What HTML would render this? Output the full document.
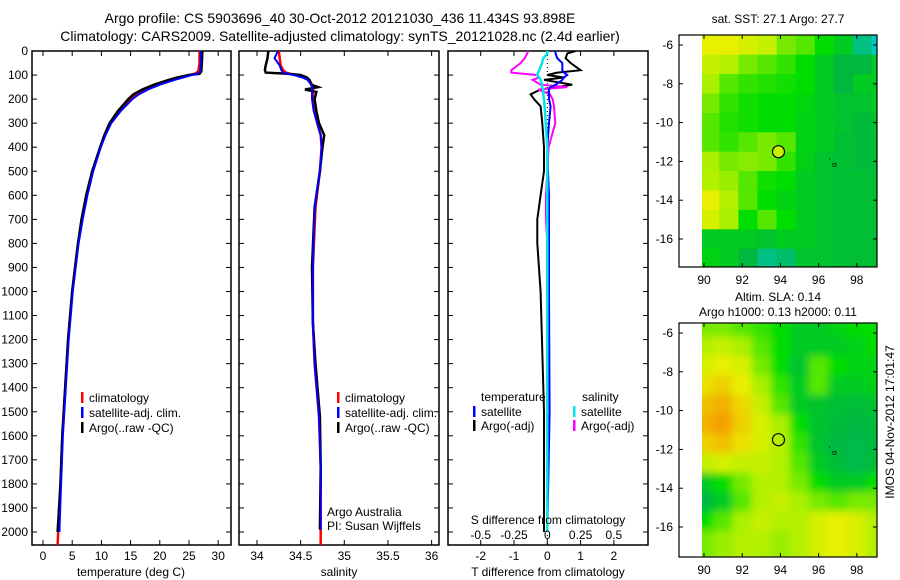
<!DOCTYPE html>
<html><head><meta charset="utf-8"><style>
html,body{margin:0;padding:0;background:#fff;}
svg{display:block;font-family:"Liberation Sans",sans-serif;}
</style></head><body>
<svg id="fig" width="900" height="580" viewBox="0 0 900 580" xmlns="http://www.w3.org/2000/svg">
<defs>
<clipPath id="c1"><rect x="32" y="51" width="199" height="494"/></clipPath>
<clipPath id="c2"><rect x="239" y="51" width="200" height="494"/></clipPath>
<clipPath id="c3"><rect x="448" y="51" width="200" height="494"/></clipPath>
<clipPath id="m1"><rect x="702" y="35" width="175" height="232"/></clipPath>
<clipPath id="m2"><rect x="702" y="323" width="175" height="234"/></clipPath>
<filter id="bl"><feGaussianBlur stdDeviation="4"/></filter>
</defs>
<text x="340" y="23" text-anchor="middle" font-size="14">Argo profile: CS 5903696_40 30-Oct-2012 20121030_436 11.434S 93.898E</text>
<text x="340" y="41" text-anchor="middle" font-size="14">Climatology: CARS2009. Satellite-adjusted climatology: synTS_20121028.nc (2.4d earlier)</text>
<g id="g"></g>
</svg>
<script>
// ---------- data ----------
const depthT = [0,50,85,95,100,110,120,140,160,180,200,250,300,350,400,500,600,700,800,900,1000,1200,1400,1600,1800,2000,2054];
const tempClim = [26.8,26.8,26.6,26,25,23.5,22,19.5,17.5,16,15,13,11.5,10.6,9.8,8.5,7.5,6.7,6,5.5,5,4.3,3.8,3.3,3.0,2.6,2.5];
const tempSat = [27.0,27.0,26.9,26.5,25.5,24,22.5,20,18,16.4,15.3,13.3,11.7,10.7,9.9,8.6,7.6,6.8,6.1,5.6,5.1,4.4,3.9,3.4,3.1,2.8,2.8];
const tempArgo = [27.3,27.2,27.1,26.8,25,23,21.5,19,17,15.5,14.6,12.8,11.4,10.5,9.8,8.4,7.4,6.6,6,5.5,5,4.3,3.8,3.3,3.0,2.5,2.5];
const depthS = [0,30,60,80,90,95,100,110,120,140,150,160,170,200,250,300,350,400,500,650,900,1130,1300,1520,1730,1990,2054];
const salClim = [34.25,34.26,34.27,34.3,34.33,34.38,34.45,34.55,34.6,34.63,34.64,34.64,34.64,34.64,34.66,34.69,34.73,34.74,34.72,34.67,34.64,34.64,34.66,34.71,34.73,34.73,34.73];
const salSat = [34.24,34.2,34.26,34.28,34.3,34.35,34.42,34.52,34.58,34.62,34.63,34.63,34.63,34.63,34.65,34.69,34.73,34.74,34.72,34.66,34.64,34.64,34.66,34.71,34.73,34.73,34.73];
const salArgo = [34.13,34.12,34.1,34.09,34.1,34.35,34.5,34.57,34.6,34.62,34.7,34.55,34.68,34.66,34.68,34.71,34.77,34.75,34.72,34.66,34.63,34.64,34.67,34.72,34.73,34.72,34.72];
const depthD = [0,10,30,50,80,90,100,110,120,140,150,160,180,200,230,300,400,500,600,700,800,1000,1500,2000];
const tDiffSat = [0.23,0.25,0.3,0.45,0.45,0.5,0.6,0.5,0.45,0.25,0.1,0.05,0.05,0.05,0.1,0.05,0,0.02,0.05,0.05,0.05,0.05,0.07,0.0];
const tDiffArgo = [0.85,0.6,0.55,0.7,1.0,0.3,0.0,0.5,-0.1,0.75,0.3,-0.2,-0.5,-0.4,-0.2,-0.15,-0.1,-0.1,-0.2,-0.3,-0.3,-0.2,-0.1,-0.1];
const sDiffSat = [0,0,-0.03,-0.04,-0.06,-0.07,-0.075,-0.06,-0.05,-0.04,-0.04,-0.03,-0.03,-0.025,-0.02,-0.012,0,0,0,0,0,0,0,0];
const sDiffArgo = [-0.145,-0.15,-0.17,-0.2,-0.27,-0.27,-0.08,-0.06,-0.11,-0.05,0.15,-0.07,0.02,0.04,0.05,0.06,0.01,0.0,-0.01,-0.01,0,0,0,0];
const depthTicks = [0,100,200,300,400,500,600,700,800,900,1000,1100,1200,1300,1400,1500,1600,1700,1800,1900,2000];
const tempTicks = [0,5,10,15,20,25,30];
const salTicks = [34,34.5,35,35.5,36];
const tdTicks = [-2,-1,0,1,2];
const sdTicks = [-0.5,-0.25,0,0.25,0.5];
const sdTickLabels = ["-0.5","-0.25","0","0.25","0.5"];
const mapLons = [90,92,94,96,98];
const mapLats = [-6,-8,-10,-12,-14,-16];
const sstGrid = [
[0.72,0.72,0.7,0.68,0.62,0.6,0.55,0.5,0.4,0.35],
[0.68,0.66,0.62,0.6,0.58,0.55,0.5,0.45,0.45,0.5],
[0.65,0.6,0.58,0.57,0.56,0.55,0.5,0.45,0.5,0.5],
[0.62,0.58,0.56,0.55,0.55,0.53,0.5,0.48,0.48,0.5],
[0.6,0.57,0.56,0.55,0.55,0.52,0.5,0.48,0.46,0.48],
[0.6,0.58,0.6,0.62,0.6,0.52,0.5,0.47,0.46,0.47],
[0.65,0.62,0.63,0.62,0.58,0.52,0.48,0.47,0.46,0.47],
[0.66,0.64,0.6,0.56,0.55,0.5,0.48,0.47,0.47,0.47],
[0.72,0.66,0.6,0.55,0.52,0.5,0.48,0.47,0.47,0.47],
[0.7,0.65,0.55,0.6,0.55,0.5,0.48,0.47,0.47,0.47],
[0.5,0.5,0.5,0.48,0.5,0.5,0.48,0.47,0.47,0.47],
[0.52,0.5,0.45,0.4,0.42,0.48,0.48,0.47,0.47,0.47]];
const slaGrid = [
[0.62,0.62,0.6,0.58,0.55,0.5,0.5,0.52,0.55,0.55],
[0.66,0.68,0.65,0.6,0.55,0.5,0.5,0.5,0.52,0.55],
[0.7,0.72,0.7,0.62,0.55,0.48,0.6,0.55,0.52,0.52],
[0.74,0.76,0.72,0.65,0.58,0.5,0.6,0.5,0.5,0.52],
[0.78,0.8,0.75,0.68,0.6,0.5,0.48,0.47,0.46,0.48],
[0.8,0.82,0.76,0.7,0.65,0.55,0.48,0.46,0.45,0.46],
[0.76,0.78,0.74,0.7,0.66,0.58,0.48,0.45,0.44,0.45],
[0.68,0.7,0.68,0.68,0.66,0.6,0.5,0.46,0.44,0.46],
[0.5,0.55,0.62,0.66,0.66,0.62,0.55,0.5,0.5,0.55],
[0.45,0.5,0.6,0.66,0.68,0.65,0.62,0.6,0.62,0.62],
[0.55,0.6,0.65,0.68,0.66,0.66,0.7,0.72,0.7,0.66],
[0.62,0.64,0.66,0.66,0.64,0.66,0.7,0.72,0.7,0.66]];
const argoPos = [93.9,-11.5];

// ---------- helpers ----------
const NS="http://www.w3.org/2000/svg";
const G=document.getElementById('g');
function el(tag,attrs,parent){const e=document.createElementNS(NS,tag);for(const k in attrs)e.setAttribute(k,attrs[k]);(parent||G).appendChild(e);return e;}
function txt(x,y,s,anchor,size,parent){const t=el('text',{x:x,y:y,'text-anchor':anchor||'middle','font-size':size||12},parent);t.textContent=s;return t;}
const yD = d => 51 + d*0.2405;
const xT = v => 43 + v*5.84;
const xS = v => 257 + (v-34)*87.3;
const xTD = v => 547.3 + v*33.3;
const xSD = v => 547.3 + v*4*33.3;

function panel(x0,x1,name,xticks,xf){
  const f=el('rect',{x:x0,y:51,width:x1-x0,height:494,fill:'none',stroke:'#000','stroke-width':1.5});
  
  
  depthTicks.forEach(d=>{
    el('line',{x1:x0,x2:x0+5,y1:yD(d),y2:yD(d),stroke:'#000'});
    el('line',{x1:x1-5,x2:x1,y1:yD(d),y2:yD(d),stroke:'#000'});
  });
  xticks.forEach(v=>{
    el('line',{x1:xf(v),x2:xf(v),y1:51,y2:56,stroke:'#000'});
    el('line',{x1:xf(v),x2:xf(v),y1:540,y2:545,stroke:'#000'});
  });
}
function line(xs,ds,xf,color,clip,name,w){
  const pts=xs.map((v,i)=>xf(v).toFixed(1)+','+yD(ds[i]).toFixed(1)).join(' ');
  const p=el('polyline',{points:pts,fill:'none',stroke:color,'stroke-width':w||2,'clip-path':'url(#'+clip+')'});
  
  
}
function legend(x,y,color,label,name){
  el('rect',{x:x,y:y-10,width:2.5,height:11,fill:color});
  const t=txt(x+8,y,label,'start',12);
  
  
}

depthTicks.forEach(d=>{const t=txt(28,yD(d)+4,String(d),'end',12);
  
  });

// panel 1 temperature
panel(32,231,'temperature-panel',tempTicks,xT);
tempTicks.forEach(v=>{const t=txt(xT(v),560,String(v));
  
  });
line(tempClim,depthT,xT,'#ff0000','c1','temp-climatology-line',2.5);
line(tempArgo.slice(0,26),depthT.slice(0,26),xT,'#000','c1','temp-argo-line',2.5);
line(tempSat.slice(0,26),depthT.slice(0,26),xT,'#0000ff','c1','temp-satellite-line',2);
legend(81,402,'#ff0000','climatology','legend-climatology');
legend(81,417,'#0000ff','satellite-adj. clim.','legend-satellite');
legend(81,432,'#000','Argo(..raw -QC)','legend-argo');
let at=txt(131,576,'temperature (deg C)');

// panel 2 salinity
panel(239,439,'salinity-panel',salTicks,xS);
salTicks.forEach(v=>{const t=txt(xS(v),560,String(v));
  
  });
line(salClim,depthS,xS,'#ff0000','c2','salinity-climatology-line',2.5);
line(salArgo.slice(0,26),depthS.slice(0,26),xS,'#000','c2','salinity-argo-line',2.5);
line(salSat.slice(0,26),depthS.slice(0,26),xS,'#0000ff','c2','salinity-satellite-line',2);
legend(337,402,'#ff0000','climatology','legend-climatology-2');
legend(337,417,'#0000ff','satellite-adj. clim.','legend-satellite-2');
legend(337,432,'#000','Argo(..raw -QC)','legend-argo-2');
let c1=txt(327,516,'Argo Australia','start',12);
let c2=txt(327,530,'PI: Susan Wijffels','start',12);
at=txt(339,576,'salinity');

// panel 3 differences
panel(448,648,'difference-panel',tdTicks,xTD);
el('line',{x1:xTD(0),x2:xTD(0),y1:51,y2:545,stroke:'#000','stroke-dasharray':'1,3'});
line(tDiffArgo,depthD,xTD,'#000','c3','t-diff-argo-line',2);
line(sDiffArgo,depthD,xSD,'#ff00ff','c3','s-diff-argo-line',2);
line(tDiffSat,depthD,xTD,'#0000ff','c3','t-diff-satellite-line',2);
line(sDiffSat,depthD,xSD,'#00e8e8','c3','s-diff-satellite-line',2.5);
tdTicks.forEach(v=>{const t=txt(xTD(v),560,String(v));
  
  });
sdTicks.forEach((v,i)=>{const t=txt(xSD(v),539,sdTickLabels[i]);
  
  });
at=txt(548,524,'S difference from climatology');
at=txt(548,576,'T difference from climatology');
at=txt(481,401,'temperature','start');
at=txt(582,401,'salinity','start');
legend(473,416,'#0000ff','satellite','legend-t-satellite');
legend(473,430,'#000','Argo(-adj)','legend-t-argo');
legend(573,416,'#00e8e8','satellite','legend-s-satellite');
legend(573,430,'#ff00ff','Argo(-adj)','legend-s-argo');

// ---------- maps ----------
const stops=[[0,[0,0,128]],[0.2,[0,96,255]],[0.35,[0,200,200]],[0.45,[0,184,64]],[0.55,[0,221,0]],[0.65,[170,240,0]],[0.72,[232,240,0]],[0.82,[245,160,0]],[0.95,[192,32,0]],[1,[160,0,0]]];
function cmap(v){for(let i=1;i<stops.length;i++){if(v<=stops[i][0]){const a=stops[i-1],b=stops[i],t=(v-a[0])/(b[0]-a[0]);
  return 'rgb('+a[1].map((c,k)=>Math.round(c+(b[1][k]-c)*t)).join(',')+')';}}return 'rgb(160,0,0)';}
function map(grid,top,clip,name,blur){
  const xL=lon=>704+(lon-90)*19.1, yL=lat=>top+10+(-6-lat)*19.4;
  const g=el('g',{'clip-path':'url(#'+clip+')'});
  
  
  const inner=el('g',blur?{filter:'url(#bl)'}:{},g);
  grid.forEach((row,j)=>row.forEach((v,i)=>{
    const lon0=89.8+i, lat0=-5.5-j;
    const r=el('rect',{x:xL(lon0)-(blur?6:0),y:yL(lat0)-(blur?6:0),width:19.6+(blur?12:0),height:19.9+(blur?12:0),fill:cmap(v)},inner);
    
    
  }));
  const f=el('rect',{x:679,y:top,width:198,height:(clip==='m1'?232:234),fill:'none',stroke:'#000','stroke-width':1.2});
  
  
  const bot=top+(clip==='m1'?232:234);
  mapLons.forEach(l=>{el('line',{x1:xL(l),x2:xL(l),y1:bot,y2:bot-4,stroke:'#000'});el('line',{x1:xL(l),x2:xL(l),y1:top,y2:top+4,stroke:'#000'});
    const t=txt(xL(l),bot+17,String(l));});
  mapLats.forEach(l=>{el('line',{x1:679,x2:683,y1:yL(l),y2:yL(l),stroke:'#000'});el('line',{x1:873,x2:877,y1:yL(l),y2:yL(l),stroke:'#000'});
    const t=txt(673,yL(l)+4,String(l),'end');});
  const c=el('circle',{cx:xL(argoPos[0]),cy:yL(argoPos[1]),r:6,fill:blur?'none':'#c8f000',stroke:'#000','stroke-width':1.2});
  
  
  el('rect',{x:xL(96.55),y:yL(-11.85),width:1,height:1,fill:'#000'});
  el('rect',{x:xL(96.8)-1,y:yL(-12.15)-1,width:3,height:3,fill:'none',stroke:'#000','stroke-width':0.6});
}
map(sstGrid,35,'m1','sst-map',false);
map(slaGrid,323,'m2','sla-map',true);
at=txt(778,23,'sat. SST: 27.1 Argo: 27.7');
at=txt(778,301,'Altim. SLA: 0.14');
at=txt(778,316,'Argo h1000: 0.13 h2000: 0.11');
at=txt(0,0,'IMOS 04-Nov-2012 17:01:47');at.setAttribute('transform','translate(894,422) rotate(-90)');

</script>
</body></html>
